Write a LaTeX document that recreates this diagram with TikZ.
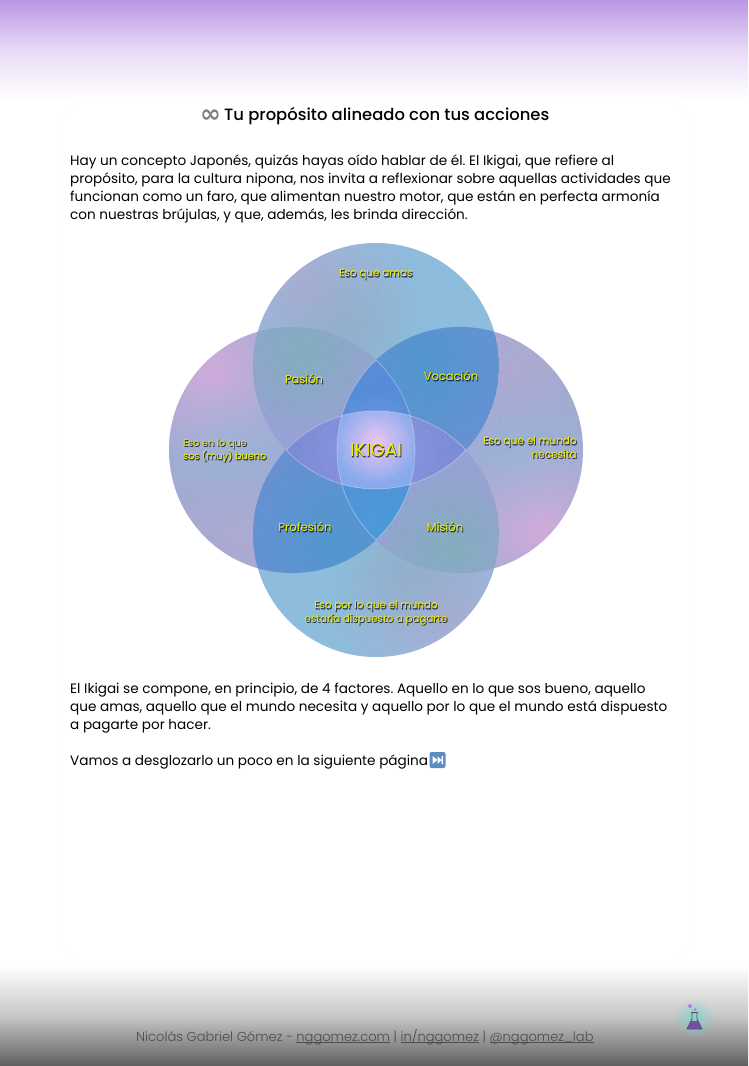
\documentclass[tikz,border=0pt]{standalone}
\usepackage{fontspec}
\usetikzlibrary{fadings,calc}
\setmainfont{Poppins}
\newfontfamily\shadowfont[FakeBold=2.5]{Poppins}
\newfontfamily\dejavu{DejaVu Sans}
\newfontfamily\footfont{Poppins Light}
\newfontfamily\titlefont{Poppins Medium}
\definecolor{ctopbase}{HTML}{8EBCDC}
\definecolor{csidebase}{HTML}{A3ABD3}
\definecolor{cmauve}{HTML}{B0AAD2}
\definecolor{cpink}{HTML}{D2ACDC}
\definecolor{cteal}{HTML}{7DB2B8}
\definecolor{cblue}{HTML}{4C98CE}
\definecolor{cperi}{HTML}{7B8CD6}
\definecolor{clabel}{HTML}{F2F200}
\definecolor{bandA}{HTML}{BB96E2}
\definecolor{bandB}{HTML}{E8DAF6}
\definecolor{footA}{HTML}{C8C8C8}
\definecolor{footB}{HTML}{606060}
\definecolor{tallA}{HTML}{5A8AD8}
\definecolor{tallB}{HTML}{4A9AD8}
\definecolor{coreedge}{HTML}{86AAEC}
\definecolor{corepink}{HTML}{ECC6F6}
\definecolor{coreglow}{HTML}{A8A0F0}
\definecolor{icoblue}{HTML}{5C8CC4}
\definecolor{halo}{HTML}{70D8CC}
\definecolor{liquid}{HTML}{7A4AB0}
\definecolor{flaskline}{HTML}{505068}
\definecolor{bubble}{HTML}{AA82E6}
\tikzfading[name=blobfade, inner color=transparent!0, outer color=transparent!100]
\tikzset{
 body/.style={anchor=base west,align=left,inner sep=0pt,font=\frenchspacing\fontsize{13.6}{18}\selectfont,text=black},
 lab/.style={inner sep=0pt,align=center,text=clabel},
 labshadow/.style={inner sep=0pt,align=center,text=black,text opacity=.55},
 ring/.style={draw=white,draw opacity=.4,line width=.6pt},
}
\newcommand{\blob}[5]{\fill[#4,fill opacity=#5,path fading=blobfade] (#1,#2) circle ({1.5*#3});}
\newcommand{\vlabel}[5][]{%
 \node[labshadow,font=\shadowfont\fontsize{#4}{13.4}\selectfont,#1] (#2s) at ($(#3)+(.7,.7)$) {#5};
 \node[lab,font=\fontsize{#4}{13.4}\selectfont,#1] (#2) at (#3) {#5};}
\newcommand{\ulx}[1]{\setbox0\hbox{#1}\rlap{\rule[-1.7pt]{\wd0}{.5pt}}\box0\relax}
\newcommand{\grain}[1]{\foreach \i in {1,...,700}{%
  \pgfmathsetmacro{\ga}{rnd*360}\pgfmathsetmacro{\gr}{sqrt(rnd)*121}%
  \pgfmathparse{rnd>.5?"white":"black"}\edef\gc{\pgfmathresult}%
  \fill[\gc,fill opacity=.03] ($(#1)+(\ga:\gr)$) circle (.8);}}
\begin{document}
\begin{tikzpicture}[x=1pt,y=-1pt]
\pgfmathsetseed{7}
\useasboundingbox (0,0) rectangle (748,1066);
\fill[white] (0,0) rectangle (748,1066);
% bands
\shade[top color=bandA,bottom color=bandB] (0,0) rectangle (748,50);
\shade[top color=bandB,bottom color=white] (0,50) rectangle (748,100);
\shade[top color=white,bottom color=footA] (0,965) rectangle (748,1015);
\shade[top color=footA,bottom color=footB] (0,1015) rectangle (748,1066);
\draw[color=black!2,line width=.5pt,rounded corners=25pt] (60,103) rectangle (693,961);
% circles
\coordinate (T) at (376,366); \coordinate (B) at (376,534);
\coordinate (L) at (292,450); \coordinate (R) at (460,450);
\def\rr{123}
\fill[ctopbase] (T) circle (\rr);
\begin{scope}\clip (T) circle (\rr);
 \blob{305}{285}{75}{cmauve}{.8}
 \blob{345}{330}{50}{gray!30!ctopbase}{.5}
\end{scope}
\fill[ctopbase] (B) circle (\rr);
\begin{scope}\clip (B) circle (\rr);
 \blob{447}{615}{75}{cmauve}{.8}
 \blob{410}{570}{50}{gray!30!ctopbase}{.5}
\end{scope}
\fill[csidebase] (L) circle (\rr);
\begin{scope}\clip (L) circle (\rr);
 \blob{212}{375}{60}{cpink}{1}
 \blob{235}{450}{55}{ctopbase}{.45}
 \blob{245}{540}{55}{cmauve}{.8}
\end{scope}
\fill[csidebase] (R) circle (\rr);
\begin{scope}\clip (R) circle (\rr);
 \blob{540}{525}{60}{cpink}{1}
 \blob{520}{450}{55}{ctopbase}{.45}
 \blob{510}{365}{55}{cmauve}{.8}
\end{scope}
% pair lenses
\begin{scope}\clip (T) circle (\rr); \clip (L) circle (\rr);
 \fill[csidebase!70!cperi] (T) circle (\rr);
 \blob{302}{352}{55}{cteal}{.8}
\end{scope}
\begin{scope}\clip (T) circle (\rr); \clip (R) circle (\rr);
 \fill[cperi!60!cblue] (T) circle (\rr);
 \blob{425}{368}{60}{cblue}{.85}
\end{scope}
\begin{scope}\clip (B) circle (\rr); \clip (L) circle (\rr);
 \fill[cperi!60!cblue] (B) circle (\rr);
 \blob{338}{538}{65}{cblue}{.85}
\end{scope}
\begin{scope}\clip (B) circle (\rr); \clip (R) circle (\rr);
 \fill[csidebase!70!cperi] (B) circle (\rr);
 \blob{450}{548}{55}{cteal}{.8}
\end{scope}
% wide and tall lens
\begin{scope}\clip (T) circle (\rr); \clip (B) circle (\rr);
 \fill[cperi] (T) circle (\rr);
 \blob{376}{450}{55}{coreglow}{.5}
\end{scope}
\begin{scope}\clip (L) circle (\rr); \clip (R) circle (\rr);
 \shade[top color=tallA,bottom color=tallB] (337,360) rectangle (415,540);
 \blob{376}{440}{32}{coreglow}{.5}
\end{scope}
% centre
\begin{scope}\clip (T) circle (\rr); \clip (B) circle (\rr); \clip (L) circle (\rr); \clip (R) circle (\rr);
 \fill[coreedge] (337,411) rectangle (415,489);
 \blob{376}{442}{29}{corepink}{1}
\end{scope}
% grain
\begin{scope}\clip (T) circle (\rr); \grain{T}\end{scope}
\begin{scope}\clip (B) circle (\rr); \grain{B}\end{scope}
\begin{scope}\clip (L) circle (\rr); \grain{L}\end{scope}
\begin{scope}\clip (R) circle (\rr); \grain{R}\end{scope}
% arcs round the centre
\begin{scope}\clip (B) circle (\rr); \draw[ring] (T) circle (\rr);\end{scope}
\begin{scope}\clip (T) circle (\rr); \draw[ring] (B) circle (\rr);\end{scope}
\begin{scope}\clip (R) circle (\rr); \draw[ring] (L) circle (\rr);\end{scope}
\begin{scope}\clip (L) circle (\rr); \draw[ring] (R) circle (\rr);\end{scope}
% labels
\vlabel{amas}{376,274.5}{10.4}{Eso que amas}
\vlabel{pasion}{304,379}{11.5}{Pasión}
\vlabel{vocacion}{451,376}{11.5}{Vocación}
\vlabel{profesion}{305,527}{11.6}{Profesión}
\vlabel{mision}{445,527}{11.5}{Misión}
\vlabel[align=left,anchor=west]{bueno}{183,450.5}{9.7}{Eso en lo que\\sos (muy) bueno}
\vlabel[align=right,anchor=east]{necesita}{577,447.5}{10.5}{Eso que el mundo\\necesita}
\vlabel{pagar}{376,613}{10.25}{Eso por lo que el mundo\\estaría dispuesto a pagarte}
\vlabel{ikigai}{376,450}{18.6}{IKIGAI}
% texts
\node[inner sep=0pt,anchor=base west,text=black!50,font=\dejavu\bfseries\fontsize{25}{25}\selectfont] (inf) at (200,122) {∞};
\node[inner sep=0pt,anchor=base west,font=\titlefont\fontsize{16.4}{20}\selectfont] (title) at (224,120) {Tu propósito alineado con tus acciones};
\node[body] (p1) at (70,219) {Hay un concepto Japonés, quizás hayas oído hablar de él. El Ikigai, que refiere al\\
propósito, para la cultura nipona, nos invita a reflexionar sobre aquellas actividades que\\
funcionan como un faro, que alimentan nuestro motor, que están en perfecta armonía\\
con nuestras brújulas, y que, además, les brinda dirección.};
\node[body] (p2) at (70,729) {El Ikigai se compone, en principio, de 4 factores. Aquello en lo que sos bueno, aquello\\
que amas, aquello que el mundo necesita y aquello por lo que el mundo está dispuesto\\
a pagarte por hacer.};
\node[body] (p3) at (70,765) {Vamos a desglozarlo un poco en la siguiente página};
% next-track icon
\fill[rounded corners=2pt,icoblue] (429.5,752) rectangle (445.5,768);
\fill[white] (432.5,756) -- (437.5,760) -- (432.5,764) -- cycle (437.5,756) -- (441.5,760) -- (437.5,764) -- cycle (441.5,756) rectangle (443,764);
% footer
\node[inner sep=0pt,anchor=base west,text=black!70,font=\footfont\fontsize{13.05}{16}\selectfont] (foot) at (136,1041) {Nicolás Gabriel Gómez - \ulx{nggomez.com} | \ulx{in/nggomez} | \ulx{@nggomez\_lab}};
% flask
\fill[halo,fill opacity=.7,path fading=blobfade] (694,1018) circle (20);
\fill[liquid] (691,1021) -- (698,1021) -- (701.5,1029) -- (687.5,1029) -- cycle;
\draw[flaskline,line width=.8pt,line join=round] (692,1012) -- (692,1019) -- (687,1029) -- (702,1029) -- (697,1019) -- (697,1012);
\draw[flaskline,line width=.8pt] (691,1012) -- (698,1012);
\fill[bubble] (690,1006) circle (2);
\fill[bubble] (695,1009.5) circle (1.5);
\end{tikzpicture}
\end{document}
